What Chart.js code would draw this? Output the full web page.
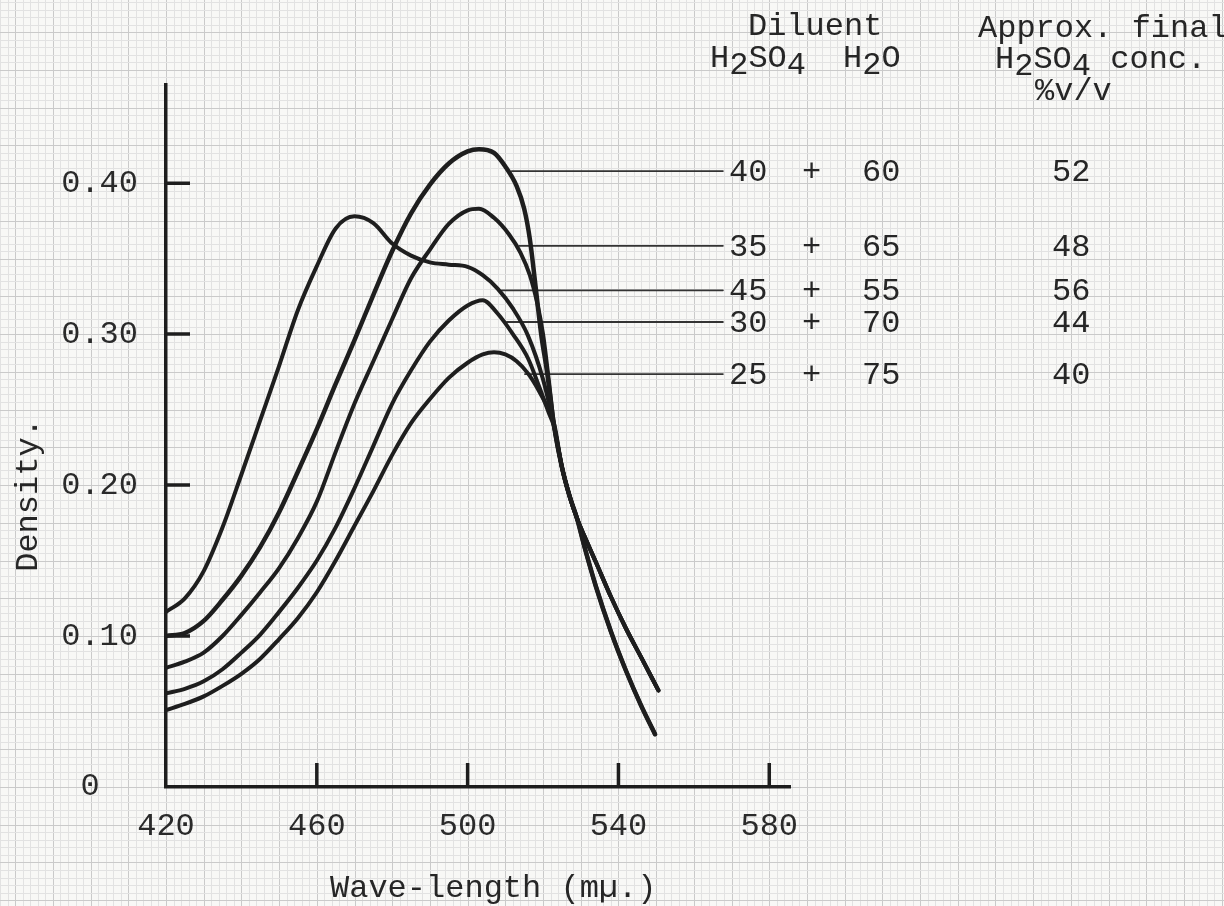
<!DOCTYPE html>
<html>
<head>
<meta charset="utf-8">
<script src="https://cdn.jsdelivr.net/npm/chart.js@4.4.1/dist/chart.umd.min.js"></script>
<style>
  html, body { margin: 0; padding: 0; background: #f8f8f6; }
  canvas { display: block; }
</style>
</head>
<body>
<canvas id="density_chart" width="1224" height="906"></canvas>
<script>
// axis ticks
const xTicks = [420, 460, 500, 540, 580];
const yTicks = [0, 0.10, 0.20, 0.30, 0.40];

// diluent table, top row to bottom row
const acidParts = [40, 35, 45, 30, 25];
const waterParts = [60, 65, 55, 70, 75];
const finalConc = [52, 48, 56, 44, 40];

// curves (wave-length in m\u00b5, density)
const wl_40 = [420, 425, 430, 435, 440, 445, 450, 455, 460, 465, 470, 475, 480, 485, 490, 495, 500, 503, 507, 510, 513, 515, 516.5, 518, 519.5, 521, 523];
const d_40  = [0.100, 0.102, 0.110, 0.124, 0.140, 0.159, 0.182, 0.209, 0.237, 0.267, 0.296, 0.326, 0.355, 0.380, 0.399, 0.413, 0.421, 0.4225, 0.420, 0.411, 0.398, 0.383, 0.363, 0.332, 0.300, 0.276, 0.238];

const wl_35 = [420, 425, 430, 435, 440, 445, 450, 455, 460, 465, 470, 475, 480, 485, 490, 495, 500, 503, 507, 511, 514, 516.5, 518.5, 520, 521.5, 523];
const d_35  = [0.079, 0.083, 0.089, 0.100, 0.114, 0.129, 0.145, 0.165, 0.189, 0.222, 0.254, 0.282, 0.310, 0.337, 0.356, 0.373, 0.382, 0.383, 0.377, 0.366, 0.354, 0.339, 0.320, 0.300, 0.270, 0.238];

const wl_45 = [420, 425, 430, 435, 440, 445, 450, 455, 460, 465, 470, 475, 480, 485, 490, 495, 500, 504, 508, 512, 516, 520, 523];
const d_45  = [0.116, 0.125, 0.143, 0.172, 0.207, 0.243, 0.279, 0.316, 0.345, 0.370, 0.378, 0.3735, 0.360, 0.352, 0.3475, 0.346, 0.3445, 0.339, 0.330, 0.317, 0.299, 0.270, 0.238];

const wl_30 = [420, 425, 430, 435, 440, 445, 450, 455, 460, 465, 470, 475, 480, 485, 490, 495, 500, 504, 508, 512, 516, 519, 521.5, 523];
const d_30  = [0.062, 0.065, 0.070, 0.078, 0.089, 0.101, 0.116, 0.132, 0.150, 0.172, 0.198, 0.226, 0.254, 0.276, 0.295, 0.309, 0.319, 0.3225, 0.3135, 0.300, 0.284, 0.265, 0.248, 0.238];

const wl_25 = [420, 425, 430, 435, 440, 445, 450, 455, 460, 465, 470, 475, 480, 485, 490, 495, 500, 504, 507, 510, 513, 516, 519, 522, 523];
const d_25  = [0.051, 0.055, 0.060, 0.067, 0.075, 0.085, 0.098, 0.112, 0.129, 0.150, 0.173, 0.196, 0.220, 0.241, 0.257, 0.271, 0.281, 0.2865, 0.288, 0.2865, 0.282, 0.274, 0.262, 0.247, 0.240];

// all curves run together here, then split into two tails
const bundleWl = [525, 527, 529];
const bundleD  = [0.212, 0.193, 0.178];
const steepTailWl = [531, 534, 538, 542, 546, 549.7];
const steepTailD  = [0.159, 0.133, 0.103, 0.077, 0.054, 0.035];
const flatTailWl  = [531, 534, 538, 542, 546, 550.6];
const flatTailD   = [0.166, 0.149, 0.126, 0.105, 0.086, 0.064];

// leader lines from each curve to its table row
const leaderY    = [0.408, 0.3585, 0.329, 0.308, 0.2735];
const leaderFrom = [511.7, 513.7, 509.0, 510.4, 515.2];
const leaderTo   = 567.7;

const ink = '#1e1e1e';
const typeFace = "'Liberation Mono', 'Courier New', monospace";

function curvePoints(wl, d, tailWl, tailD) {
    var w = wl.concat(bundleWl, tailWl);
    var v = d.concat(bundleD, tailD);
    return w.map(function(x, i) { return {x: x, y: v[i]}; });
}

var curves = [
    curvePoints(wl_40, d_40, steepTailWl, steepTailD),
    curvePoints(wl_35, d_35, flatTailWl, flatTailD),
    curvePoints(wl_45, d_45, steepTailWl, steepTailD),
    curvePoints(wl_30, d_30, flatTailWl, flatTailD),
    curvePoints(wl_25, d_25, flatTailWl, flatTailD)
];

var datasets = [];
for (var i = 0; i < curves.length; i++) {
    datasets.push({
        label: acidParts[i] + ' + ' + waterParts[i],
        data: curves[i],
        borderColor: ink,
        borderWidth: i === 0 ? 4.5 : 4,
        cubicInterpolationMode: 'monotone'
    });
}
for (var j = 0; j < leaderY.length; j++) {
    datasets.push({
        label: 'leader ' + acidParts[j],
        data: [{x: leaderFrom[j], y: leaderY[j]}, {x: leaderTo, y: leaderY[j]}],
        borderColor: '#333',
        borderWidth: 1.8
    });
}

// squared graph paper over the whole sheet, lined up with the axes
const graphPaper = {
    id: 'graphPaper',
    beforeDraw: function(chart) {
        var ctx = chart.ctx, w = chart.width, h = chart.height;
        var xs = chart.scales.x, ys = chart.scales.y;
        ctx.save();
        ctx.fillStyle = '#f8f8f6';
        ctx.fillRect(0, 0, w, h);
        var x0 = xs.getPixelForValue(420), dx = xs.getPixelForValue(422) - x0;
        var y0 = ys.getPixelForValue(0), dy = y0 - ys.getPixelForValue(0.005);
        ctx.lineWidth = 1;
        for (var i = -Math.ceil(x0 / dx); x0 + i * dx <= w; i++) {
            var px = Math.round(x0 + i * dx) + 0.5;
            ctx.strokeStyle = i % 5 === 0 ? '#cacaca' : '#e2e2e2';
            ctx.beginPath(); ctx.moveTo(px, 0); ctx.lineTo(px, h); ctx.stroke();
        }
        for (var k = -Math.ceil((h - y0) / dy); y0 - k * dy >= 0; k++) {
            var py = Math.round(y0 - k * dy) + 0.5;
            ctx.strokeStyle = k % 5 === 0 ? '#cacaca' : '#e2e2e2';
            ctx.beginPath(); ctx.moveTo(0, py); ctx.lineTo(w, py); ctx.stroke();
        }
        ctx.restore();
    }
};

// typewriter style line, "_" lowers the next character
function typed(ctx, str, x, y) {
    var adv = ctx.measureText('0').width;
    var lower = false;
    for (var i = 0; i < str.length; i++) {
        var c = str[i];
        if (c === '_') { lower = true; continue; }
        ctx.fillText(c, x, y + (lower ? 7 : 0));
        x += adv;
        lower = false;
    }
}

const typedText = {
    id: 'typedText',
    afterDraw: function(chart) {
        var ctx = chart.ctx, xs = chart.scales.x, ys = chart.scales.y;
        var area = chart.chartArea;
        ctx.save();

        // inward tick marks
        ctx.strokeStyle = ink;
        ctx.lineWidth = 3.5;
        ctx.beginPath();
        yTicks.forEach(function(v) {
            if (v === 0) return;
            var py = ys.getPixelForValue(v);
            ctx.moveTo(area.left, py); ctx.lineTo(area.left + 24, py);
        });
        xTicks.forEach(function(v) {
            if (v === 420) return;
            var px = xs.getPixelForValue(v);
            ctx.moveTo(px, area.bottom); ctx.lineTo(px, area.bottom - 24);
        });
        ctx.stroke();

        ctx.fillStyle = '#262626';
        ctx.font = '32px ' + typeFace;
        ctx.textBaseline = 'alphabetic';
        ctx.textAlign = 'left';

        typed(ctx, 'Wave-length (m\u00b5.)', 330, 897);

        typed(ctx, 'Diluent', 748, 35);
        typed(ctx, 'H_2SO_4', 710, 67);
        typed(ctx, 'H_2O', 843, 67);
        typed(ctx, 'Approx. final', 978, 37);
        typed(ctx, 'H_2SO_4 conc.', 995, 68);
        typed(ctx, '%v/v', 1035, 100);

        for (var i = 0; i < acidParts.length; i++) {
            var base = ys.getPixelForValue(leaderY[i]) + 10;
            typed(ctx, String(acidParts[i]), 729, base);
            typed(ctx, '+', 802, base);
            typed(ctx, String(waterParts[i]), 862, base);
            typed(ctx, String(finalConc[i]), 1052, base);
        }

        ctx.translate(37, 495);
        ctx.rotate(-Math.PI / 2);
        ctx.textAlign = 'center';
        ctx.fillText('Density.', 0, 0);
        ctx.restore();
    }
};

window.onload = function() {
    var tickFont = { family: typeFace, size: 32 };
    var chart = new Chart(document.getElementById('density_chart'), {
        type: 'line',
        data: { datasets: datasets },
        options: {
            responsive: false,
            devicePixelRatio: 1,
            animation: false,
            events: [],
            layout: { padding: { left: 0, top: 85, right: 434, bottom: 0 } },
            plugins: { legend: { display: false }, tooltip: { enabled: false } },
            elements: {
                point: { radius: 0 },
                line: { borderCapStyle: 'round', borderJoinStyle: 'round' }
            },
            scales: {
                x: {
                    type: 'linear',
                    min: 420,
                    max: 585.5,
                    afterFit: function(s) { s.height = 119; },
                    afterBuildTicks: function(s) { s.ticks = xTicks.map(function(v) { return {value: v}; }); },
                    grid: { display: false, drawTicks: false },
                    border: { display: true, width: 3.5, color: ink },
                    ticks: { font: tickFont, color: '#2a2a2a', padding: 20, maxRotation: 0, autoSkip: false }
                },
                y: {
                    type: 'linear',
                    min: 0,
                    max: 0.465,
                    afterFit: function(s) { s.width = 166; },
                    afterBuildTicks: function(s) { s.ticks = yTicks.map(function(v) { return {value: v}; }); },
                    grid: { display: false, drawTicks: false },
                    border: { display: true, width: 3.5, color: ink },
                    ticks: {
                        font: tickFont,
                        color: '#2a2a2a',
                        padding: 28,
                        autoSkip: false,
                        callback: function(v) { return v === 0 ? '0  ' : v.toFixed(2); }
                    }
                }
            }
        },
        plugins: [graphPaper, typedText]
    });
};
</script>
</body>
</html>
